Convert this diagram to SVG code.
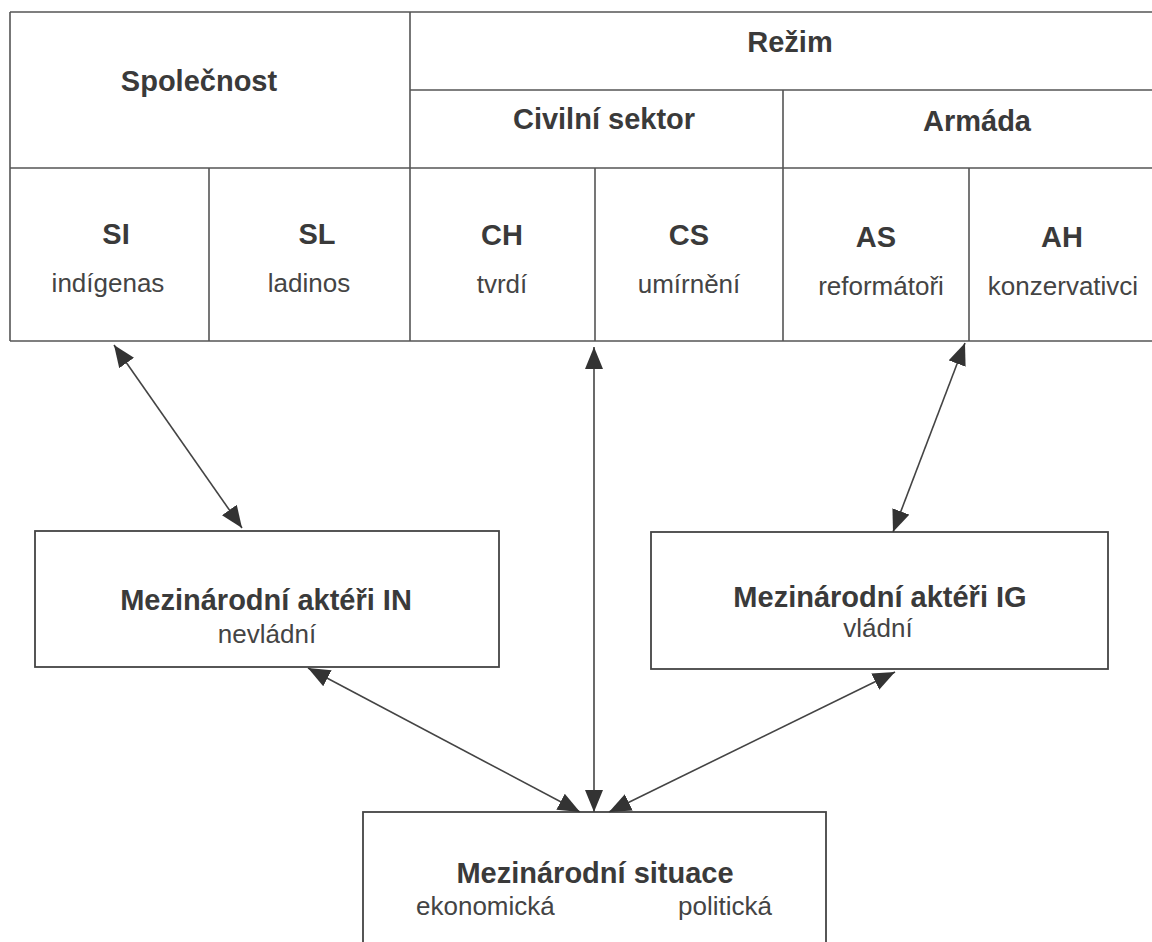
<svg xmlns="http://www.w3.org/2000/svg" width="1152" height="942" viewBox="0 0 1152 942">
<style>
.ln{stroke:#555;stroke-width:1.6;fill:none}
.box{stroke:#444;stroke-width:1.8;fill:#fff}
.b{font-family:"Liberation Sans",Arial,sans-serif;font-weight:bold;font-size:29px;fill:#3a3a3a;text-anchor:middle}
.r{font-family:"Liberation Sans",Arial,sans-serif;font-size:26px;fill:#444;text-anchor:middle}
.st{text-anchor:start}
.con{stroke:#444;stroke-width:1.6;fill:none;marker-start:url(#ah);marker-end:url(#ah)}
</style>
<defs>
<marker id="ah" viewBox="0 0 22 18" refX="22" refY="9" markerWidth="22" markerHeight="18" markerUnits="userSpaceOnUse" orient="auto-start-reverse">
<path d="M0,0 L22,9 L0,18 Z" fill="#333"/>
</marker>
</defs>
<rect width="1152" height="942" fill="#fff"/>
<g id="table">
<path class="ln" d="M10,12 H1160 M410,90 H1160 M10,168 H1160 M10,341 H1160 M10,12 V341 M410,12 V341 M209,168 V341 M595,168 V341 M783,90 V341 M969,168 V341"/>
</g>
<g id="spolecnost"><text class="b" x="199" y="91">Společnost</text></g>
<g id="rezim"><text class="b" x="790" y="52">Režim</text></g>
<g id="civilni"><text class="b" x="604" y="129">Civilní sektor</text></g>
<g id="armada"><text class="b" x="977" y="131">Armáda</text></g>
<g id="SI"><text class="b" x="116" y="244">SI</text><text class="r" x="108" y="292">indígenas</text></g>
<g id="SL"><text class="b" x="317" y="244">SL</text><text class="r" x="309" y="292">ladinos</text></g>
<g id="CH"><text class="b" x="502" y="245">CH</text><text class="r" x="502" y="293">tvrdí</text></g>
<g id="CS"><text class="b" x="689" y="245">CS</text><text class="r" x="689" y="293">umírnění</text></g>
<g id="AS"><text class="b" x="876" y="247">AS</text><text class="r" x="881" y="295">reformátoři</text></g>
<g id="AH"><text class="b" x="1062" y="247">AH</text><text class="r" x="1063" y="295">konzervativci</text></g>
<g id="IN">
<rect class="box" x="35" y="531" width="464" height="136"/>
<text class="b" x="266" y="610">Mezinárodní aktéři IN</text>
<text class="r" x="267" y="643">nevládní</text>
</g>
<g id="IG">
<rect class="box" x="651" y="532" width="457" height="137"/>
<text class="b" x="880" y="607">Mezinárodní aktéři IG</text>
<text class="r" x="878" y="637">vládní</text>
</g>
<g id="situace">
<rect class="box" x="363" y="812" width="463" height="160"/>
<text class="b" x="595" y="883">Mezinárodní situace</text>
<text class="r st" x="416" y="915">ekonomická</text>
<text class="r st" x="678" y="915">politická</text>
</g>
<g id="connectors">
<line class="con" x1="114" y1="345" x2="242" y2="528"/>
<line class="con" x1="594" y1="347" x2="594" y2="812"/>
<line class="con" x1="965" y1="343" x2="893" y2="532"/>
<line class="con" x1="308" y1="668" x2="580" y2="812"/>
<line class="con" x1="895" y1="672" x2="609" y2="812"/>
</g>
</svg>
